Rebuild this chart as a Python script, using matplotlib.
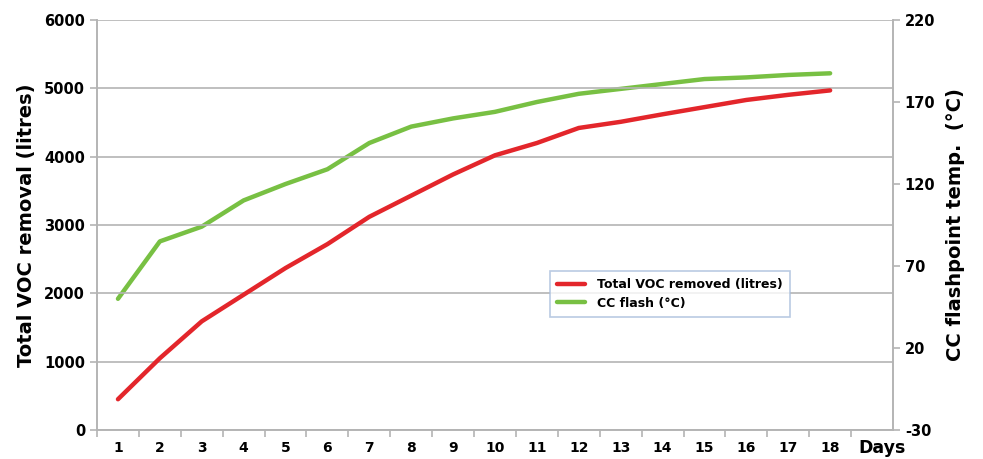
import matplotlib.pyplot as plt
import numpy as np

days = list(range(1, 19))
voc_removed = [450, 1050, 1590, 1980, 2370, 2720, 3120, 3430, 3740, 4020,
               4200, 4420, 4510, 4620, 4725, 4830, 4905, 4970]
cc_flash = [50, 85, 94, 110, 120, 129, 145, 155, 160, 164,
            170, 175, 178, 181, 184, 185, 186.5, 187.5]

left_ticks = [0, 1000, 2000, 3000, 4000, 5000, 6000]
right_ticks = [-30, 20, 70, 120, 170, 220]

plt.rcParams['font.family'] = ['DejaVu Sans']
plt.rcParams['font.weight'] = 'bold'
plt.rcParams['axes.unicode_minus'] = False

fig = plt.figure(figsize=(9.83, 4.59), dpi=100)
ax = fig.add_axes([0.0987, 0.0632, 0.8097, 0.8932])
ax2 = ax.twinx()

grid_col = '#b4b4b4'
red = '#e3262b'
green = '#78c043'

l1, = ax.plot(days, voc_removed, color=red, lw=3.2, solid_capstyle='round',
              label='Total VOC removed (litres)')
l2, = ax2.plot(days, cc_flash, color=green, lw=3.2, solid_capstyle='round',
               label='CC flash (°C)')

ax.set_xlim(0.5, 19.5)
ax.set_ylim(0, 6000)
ax2.set_ylim(-30, 220)
ax.set_yticks(left_ticks)
ax2.set_yticks(right_ticks)
ax.set_xticks(days)
ax.set_xticks(np.arange(0.5, 19.5, 1), minor=True)

ax.yaxis.grid(True, color=grid_col, lw=1.2)
ax.set_axisbelow(True)

for a in (ax, ax2):
    a.spines['top'].set_visible(False)
    for s in ('left', 'right', 'bottom'):
        a.spines[s].set_color(grid_col)
        a.spines[s].set_linewidth(1.2)

ax.tick_params(axis='x', which='major', length=0, pad=8, labelsize=10)
ax.tick_params(axis='x', which='minor', length=5, color=grid_col, width=1.2)
ax.tick_params(axis='y', length=5, color=grid_col, width=1.2, labelsize=10.5)
ax2.tick_params(axis='y', length=5, color=grid_col, width=1.2, labelsize=10.5)

ax.set_ylabel('Total VOC removal (litres)', fontsize=14, fontweight='bold', labelpad=6)
ax2.set_ylabel('CC flashpoint temp.  (°C)', fontsize=14, fontweight='bold', labelpad=8)

ax.text(19.25, -0.045, 'Days', transform=ax.get_xaxis_transform(), ha='center', va='center',
        fontsize=12.5, fontweight='bold')

leg = ax.legend(handles=[l1, l2], loc='center', bbox_to_anchor=(0.72, 0.332),
                frameon=True, fancybox=False, fontsize=9, handlelength=2.2,
                borderpad=0.6, labelspacing=0.45, handletextpad=1.0)
leg.get_frame().set_edgecolor('#a8bedc')
leg.get_frame().set_linewidth(1.2)
ax.set_zorder(ax2.get_zorder() + 1)
ax.patch.set_visible(False)

fig.savefig('out.png', dpi=100)
